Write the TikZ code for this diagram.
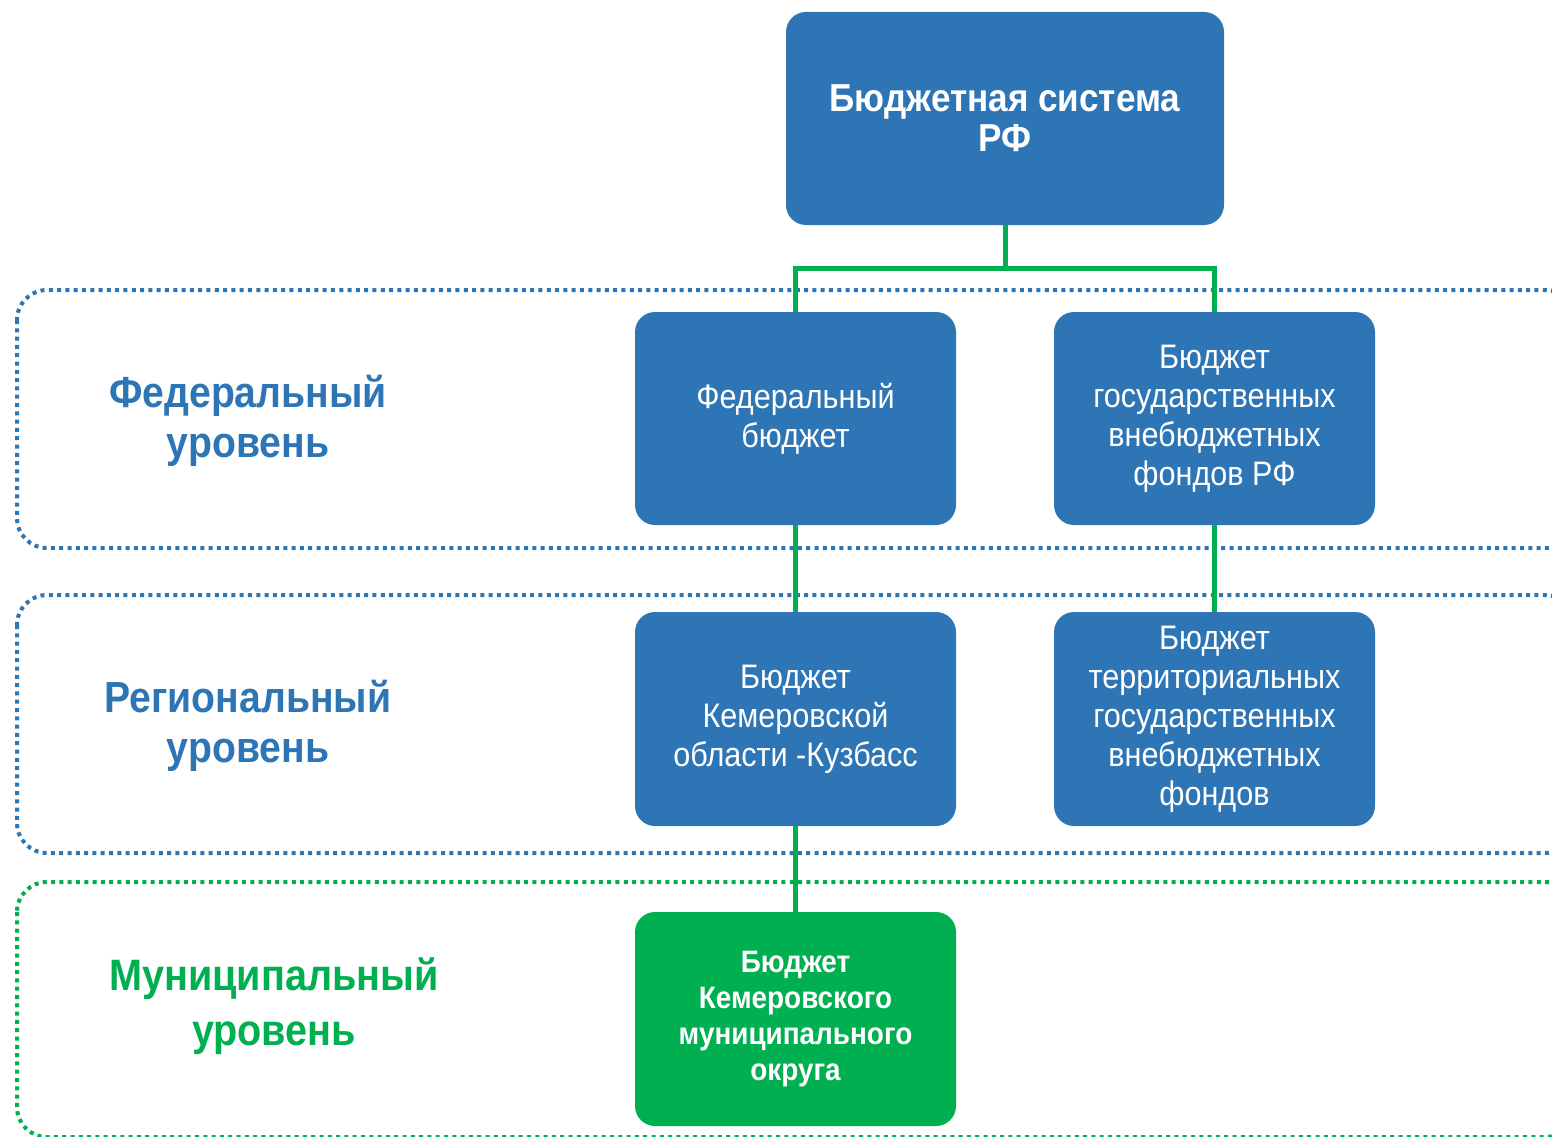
\documentclass[tikz,border=0pt]{standalone}
\usepackage{fontspec}
\setmainfont{Liberation Sans}[FakeStretch=0.9]
\definecolor{cblue}{HTML}{2E75B6}
\definecolor{cgreen}{HTML}{00B050}
\begin{document}
\begin{tikzpicture}[x=1pt,y=-1pt,
  box/.style={draw=none,fill=cblue,rounded corners=20pt,text=white,align=center,inner sep=0pt},
  frame/.style={line width=4pt,dash pattern=on 4pt off 4.3pt,rounded corners=30pt},
  conn/.style={draw=cgreen,line width=5pt},
  btext/.style={font=\fontsize{34}{39}\selectfont},
  lbl/.style={align=center,font=\bfseries\fontsize{43.5}{50}\selectfont}]
\useasboundingbox (0,0) rectangle (1552,1137);
\clip (0,0) rectangle (1552,1137);
% frames
\draw[frame,cblue] (17,290) rectangle (1575,548);
\draw[frame,cblue] (17,595) rectangle (1575,853);
\draw[frame,cgreen] (17,882) rectangle (1575,1137);
% boxes
\node[box,minimum width=438pt,minimum height=213pt,font=\bfseries\fontsize{39}{40}\selectfont] (top) at (1005,118.5) {Бюджетная система\\РФ};
\node[box,btext,minimum width=321pt,minimum height=213pt] (fed) at (795.5,418.5) {Федеральный\\бюджет};
\node[box,btext,minimum width=321pt,minimum height=213pt] (fonds) at (1214.5,418.5) {Бюджет\\государственных\\внебюджетных\\фондов РФ};
\node[box,btext,minimum width=321pt,minimum height=214pt] (reg) at (795.5,719) {Бюджет\\Кемеровской\\области -Кузбасс};
\node[box,btext,minimum width=321pt,minimum height=214pt] (terr) at (1214.5,719) {Бюджет\\территориальных\\государственных\\внебюджетных\\фондов};
\node[box,fill=cgreen,minimum width=321pt,minimum height=214pt,font=\bfseries\fontsize{31}{36}\selectfont] (mun) at (795.5,1019) {Бюджет\\Кемеровского\\муниципального\\округа};
% labels
\node[lbl,text=cblue] (lf) at (248,421) {Федеральный\\уровень};
\node[lbl,text=cblue] (lr) at (248,726) {Региональный\\уровень};
\node[lbl,text=cgreen,font=\bfseries\fontsize{44}{55}\selectfont] (lm) at (274,1006) {Муниципальный\\уровень};
% connectors
\coordinate (hub) at (1005,268);
\draw[conn] (top.south) -- (hub);
\draw[conn] (fed.north) |- (hub) -| (fonds.north);
\draw[conn] (fed.south) -- (reg.north);
\draw[conn] (fonds.south) -- (terr.north);
\draw[conn] (reg.south) -- (mun.north);
\end{tikzpicture}
\end{document}
